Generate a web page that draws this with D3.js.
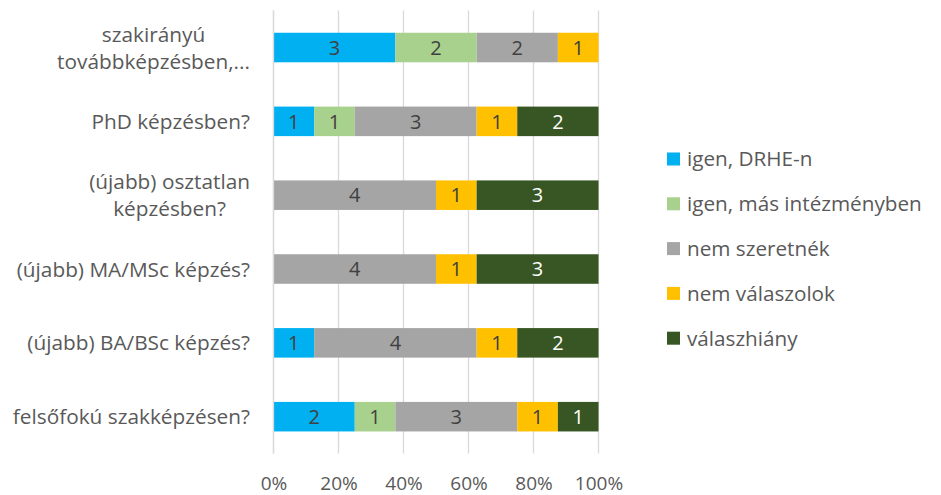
<!DOCTYPE html>
<html><head><meta charset="utf-8">
<script src="https://cdn.jsdelivr.net/npm/d3@7"></script>
<style>body{margin:0;background:#fff}svg{display:block}text{font-family:"Open Sans",Lato,sans-serif}</style>
</head><body>
<script>
const categories = [["szakirányú","továbbképzésben,..."],["PhD képzésben?"],["(újabb) osztatlan","képzésben?"],["(újabb) MA/MSc képzés?"],["(újabb) BA/BSc képzés?"],["felsőfokú szakképzésen?"]];
const seriesNames = ["igen, DRHE-n","igen, más intézményben","nem szeretnék","nem válaszolok","válaszhiány"];
const igenDRHE = [3,1,0,0,1,2];
const igenMas = [2,1,0,0,0,1];
const nemSzeretnek = [2,3,4,4,4,3];
const nemValaszolok = [1,1,1,1,1,1];
const valaszhiany = [0,2,3,3,2,1];
const colors = ["#00B0F0","#A9D18E","#A5A5A5","#FFC000","#375623"];
const labelColors = ["#404040","#404040","#404040","#404040","#ffffff"];
const tickValues = [0,0.2,0.4,0.6,0.8,1];

const W=941,H=495;
const svg=d3.select("body").append("svg").attr("width",W).attr("height",H);
const x=d3.scaleLinear().domain([0,1]).range([273.5,598.5]);
const y=d3.scaleBand().domain(d3.range(categories.length)).range([10.6,453.6]).paddingInner(0.6).paddingOuter(0.3);

const series=[igenDRHE,igenMas,nemSzeretnek,nemValaszolok,valaszhiany];
const rows=categories.map((c,i)=>{const o={i};series.forEach((s,k)=>o["s"+k]=s[i]);return o;});
const keys=series.map((s,k)=>"s"+k);
const stacked=d3.stack().keys(keys).offset(d3.stackOffsetExpand)(rows);

// gridlines
svg.append("g").selectAll("line").data(tickValues).join("line")
 .attr("x1",d=>x(d)).attr("x2",d=>x(d)).attr("y1",10.6).attr("y2",453.6)
 .attr("stroke","#d9d9d9").attr("stroke-width",1.3);

// bars
stacked.forEach((layer,k)=>{
 const g=svg.append("g");
 g.selectAll("rect").data(layer.filter(d=>d[1]-d[0]>0)).join("rect")
  .attr("x",d=>x(d[0])).attr("width",d=>x(d[1])-x(d[0]))
  .attr("y",d=>y(d.data.i)).attr("height",y.bandwidth())
  .attr("fill",colors[k]);
 g.selectAll("text").data(layer.filter(d=>d[1]-d[0]>0)).join("text")
  .attr("x",d=>(x(d[0])+x(d[1]))/2).attr("y",d=>y(d.data.i)+y.bandwidth()/2)
  .attr("dy","0.36em").attr("text-anchor","middle").attr("font-size",20)
  .attr("fill",labelColors[k]).text(d=>d.data["s"+k]);
});

// axis line
svg.append("line").attr("x1",x(0)).attr("x2",x(0)).attr("y1",10.6).attr("y2",453.6).attr("stroke","#d9d9d9").attr("stroke-width",1.3);

// x tick labels
const xAxis=d3.axisBottom(x).tickValues(tickValues).tickFormat(d3.format(".0%")).tickSize(0).tickPadding(0);
const ax=svg.append("g").attr("transform","translate(0,476)").call(xAxis);
ax.select(".domain").remove();
ax.selectAll("text").attr("font-size",19).attr("fill","#595959").attr("font-family","'Open Sans',Lato,sans-serif");

// category labels
const cg=svg.append("g");
categories.forEach((lines,i)=>{
 const cy=y(i)+y.bandwidth()/2;
 const lh=27;
 const t=cg.append("text").attr("font-size",20.8).attr("fill","#595959").attr("text-anchor","middle");
 const spans=lines.map((l,j)=>t.append("tspan").text(l));
 const widths=spans.map(s=>s.node().getComputedTextLength());
 const maxW=d3.max(widths);
 const cx=250-maxW/2;
 spans.forEach((s,j)=>s.attr("x",cx).attr("y",cy+(j-(lines.length-1)/2)*lh).attr("dy","0.36em"));
});

// legend
const lg=svg.append("g");
seriesNames.forEach((n,k)=>{
 const ly=159+k*44.8;
 lg.append("rect").attr("x",667).attr("y",ly-6.5).attr("width",13).attr("height",13).attr("fill",colors[k]);
 lg.append("text").attr("x",687).attr("y",ly).attr("dy","0.36em").attr("font-size",20.7).attr("fill","#595959").text(n);
});
</script>
</body></html>
